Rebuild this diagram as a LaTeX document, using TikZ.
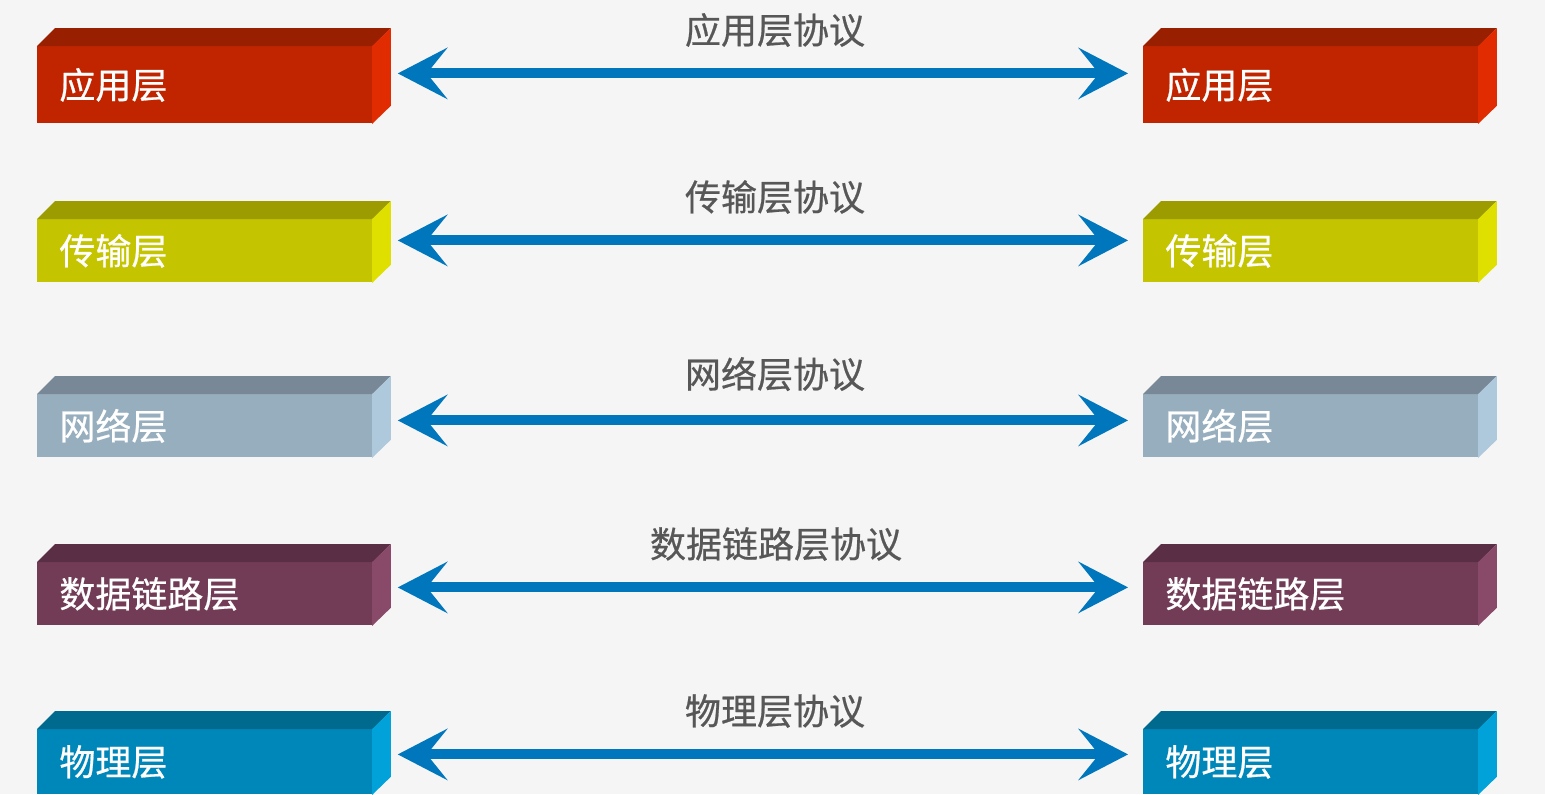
\documentclass[tikz,border=0pt]{standalone}
\usepackage{fontspec}
\setmainfont{Noto Sans CJK SC}[FakeBold=0.6]
\usetikzlibrary{arrows.meta,positioning}

\definecolor{bg}{HTML}{F5F5F5}
\definecolor{arw}{HTML}{0076BC}
\definecolor{ptext}{HTML}{575757}
\definecolor{appF}{HTML}{C02500}
\definecolor{appT}{HTML}{982000}
\definecolor{appS}{HTML}{E02C00}
\definecolor{traF}{HTML}{C4C400}
\definecolor{traT}{HTML}{9C9C00}
\definecolor{traS}{HTML}{E0E000}
\definecolor{netF}{HTML}{97AEBF}
\definecolor{netT}{HTML}{788896}
\definecolor{netS}{HTML}{AEC8DC}
\definecolor{linF}{HTML}{723C57}
\definecolor{linT}{HTML}{5A2E45}
\definecolor{linS}{HTML}{894A6A}
\definecolor{phyF}{HTML}{0087BA}
\definecolor{phyT}{HTML}{006A8E}
\definecolor{phyS}{HTML}{00A2D9}

\tikzset{
  layer/.style={rectangle, anchor=north west, inner sep=0pt, inner xsep=11pt,
    text width=145.5pt, align=left, text=white, fill=#1,
    font=\fontsize{18pt}{20pt}\selectfont},
  proto/.style={draw=arw, line width=5pt,
    {Stealth[length=25pt,width=26pt,inset=10.5pt,line width=0pt]}-{Stealth[length=25pt,width=26pt,inset=10.5pt,line width=0pt]},
    shorten <=12.5pt, shorten >=7.5pt},
  plabel/.style={text=ptext, font=\fontsize{18pt}{20pt}\selectfont}
}

% top and side faces of a slab
\newcommand\slabfaces[3]{%
  \fill[#2] (#1.north west) -- ++(9pt,9pt) -- ([shift={(9pt,9pt)}]#1.north east) -- (#1.north east) -- cycle;
  \fill[#3] ([xshift=-0.3pt]#1.north east) -- ++(9.3pt,9pt) -- ([shift={(9pt,9pt)}]#1.south east) -- ([xshift=-0.3pt]#1.south east) -- cycle;
}

\begin{document}
\begin{tikzpicture}[x=0.5pt,y=-0.5pt]
  \fill[bg] (0,0) rectangle (1545,794);
  \useasboundingbox (0,0) rectangle (1545,794);

  % left stack
  \node[layer=appF, minimum height=38.5pt] (l1) at (37,46) {应用层};
  \node[layer=traF, minimum height=31.5pt] (l2) at (37,219) {传输层};
  \node[layer=netF, minimum height=31.5pt] (l3) at (37,394) {网络层};
  \node[layer=linF, minimum height=31.5pt] (l4) at (37,562) {数据链路层};
  \node[layer=phyF, minimum height=32.5pt] (l5) at (37,729) {物理层};
  % right stack
  \node[layer=appF, minimum height=38.5pt] (r1) at (1143,46) {应用层};
  \node[layer=traF, minimum height=31.5pt] (r2) at (1143,219) {传输层};
  \node[layer=netF, minimum height=31.5pt] (r3) at (1143,394) {网络层};
  \node[layer=linF, minimum height=31.5pt] (r4) at (1143,562) {数据链路层};
  \node[layer=phyF, minimum height=32.5pt] (r5) at (1143,729) {物理层};

  \slabfaces{l1}{appT}{appS}
  \slabfaces{r1}{appT}{appS}
  \slabfaces{l2}{traT}{traS}
  \slabfaces{r2}{traT}{traS}
  \slabfaces{l3}{netT}{netS}
  \slabfaces{r3}{netT}{netS}
  \slabfaces{l4}{linT}{linS}
  \slabfaces{r4}{linT}{linS}
  \slabfaces{l5}{phyT}{phyS}
  \slabfaces{r5}{phyT}{phyS}

  % protocols
  \draw[proto] ([yshift=5.75pt]l1.east) -- ([yshift=5.75pt]r1.west);
  \draw[proto] ([yshift=5.25pt]l2.east) -- ([yshift=5.25pt]r2.west);
  \draw[proto] ([yshift=2.75pt]l3.east) -- ([yshift=2.75pt]r3.west);
  \draw[proto] ([yshift=3.25pt]l4.east) -- ([yshift=3.25pt]r4.west);
  \draw[proto] ([yshift=3.75pt]l5.east) -- ([yshift=3.75pt]r5.west);

  \node[plabel] (p1) at (775,30) {应用层协议};
  \node[plabel] (p2) at (775,197) {传输层协议};
  \node[plabel] (p3) at (775,374) {网络层协议};
  \node[plabel] (p4) at (776,544) {数据链路层协议};
  \node[plabel] (p5) at (775,711) {物理层协议};
\end{tikzpicture}
\end{document}
